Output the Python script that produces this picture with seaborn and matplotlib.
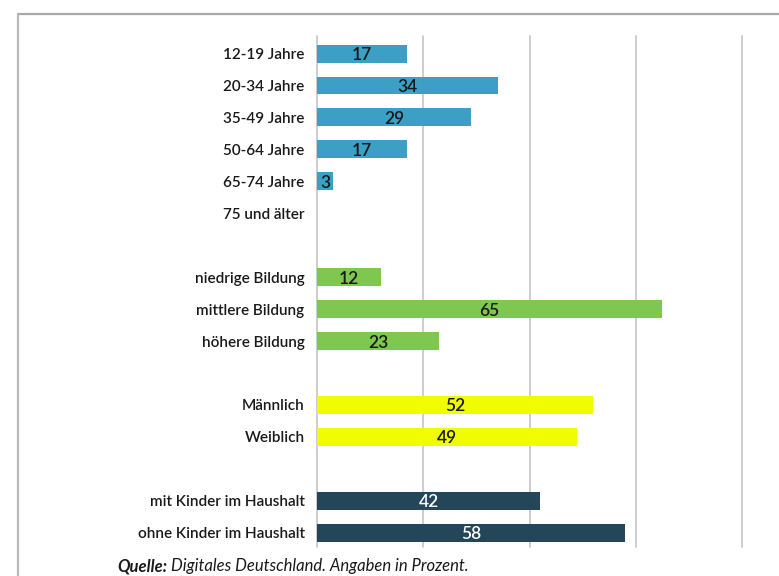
import matplotlib
matplotlib.use("Agg")
import matplotlib.pyplot as plt
from matplotlib.lines import Line2D
import seaborn as sns
import pandas as pd

# Survey shares in percent, grouped by segment
age_labels = ["12-19 Jahre", "20-34 Jahre", "35-49 Jahre", "50-64 Jahre", "65-74 Jahre", "75 und älter"]
age_values = [17, 34, 29, 17, 3, 0]

edu_labels = ["niedrige Bildung", "mittlere Bildung", "höhere Bildung"]
edu_values = [12, 65, 23]

sex_labels = ["Männlich", "Weiblich"]
sex_values = [52, 49]

kids_labels = ["mit Kinder im Haushalt", "ohne Kinder im Haushalt"]
kids_values = [42, 58]

group_names = ["Alter", "Bildung", "Geschlecht", "Kinder"]
group_colors = ["#3c9fc4", "#7ec850", "#f0fc00", "#234658"]
label_colors = ["#1a1a1a", "#1a1a1a", "#1a1a1a", "#ffffff"]

rows = []
for g, labels, values in zip(group_names,
                             [age_labels, edu_labels, sex_labels, kids_labels],
                             [age_values, edu_values, sex_values, kids_values]):
    for l, v in zip(labels, values):
        rows.append({"Kategorie": l, "Wert": v, "Gruppe": g})
df = pd.DataFrame(rows)

# Category order with blank spacer rows between the segments
order = (age_labels + [" "] + edu_labels + ["  "] + sex_labels + ["   "] + kids_labels)

sns.set_theme(style="white")
plt.rcParams["font.family"] = ["Lato", "DejaVu Sans"]

fig = plt.figure(figsize=(7.79, 5.76), dpi=100)
ax = fig.add_axes([317 / 779, 1 - 547 / 576, (742 - 317) / 779, (547 - 36) / 576])

sns.barplot(data=df, x="Wert", y="Kategorie", hue="Gruppe", order=order,
            hue_order=group_names, palette=group_colors, dodge=False,
            width=0.56, orient="h", legend=False, ax=ax, zorder=3,
            edgecolor="none", errorbar=None, saturation=1)

ax.set_xlim(0, 80)
ax.set_ylim(len(order) - 0.55, -0.55)
for xv in [0, 20, 40, 60, 80]:
    ax.axvline(xv, color="#c9c9c9", lw=1.3, zorder=1, clip_on=False)

for s in ax.spines.values():
    s.set_visible(False)
ax.set_xticks([])
ax.set_xlabel("")
ax.set_ylabel("")
ax.tick_params(axis="y", length=0, pad=9, labelsize=11, labelcolor="#1a1a1a")
for t in ax.get_yticklabels():
    t.set_fontweight("semibold")

# Value labels centred in each bar
color_by_group = dict(zip(group_names, label_colors))
for _, r in df.iterrows():
    if r["Wert"] <= 0:
        continue
    y = order.index(r["Kategorie"])
    ax.text(r["Wert"] / 2, y, f"{r['Wert']:g}", ha="center", va="center_baseline",
            fontsize=12.5, fontweight="semibold", color=color_by_group[r["Gruppe"]], zorder=4)

# Thin frame along top and left edge
fig.add_artist(Line2D([18 / 779, 1], [1 - 14 / 576, 1 - 14 / 576],
                      transform=fig.transFigure, color="#a8a8a8", lw=1.6))
fig.add_artist(Line2D([18 / 779, 18 / 779], [0, 1 - 14 / 576],
                      transform=fig.transFigure, color="#b8b8b8", lw=1.6))

src_y = 1 - 566 / 576
t1 = fig.text(117 / 779, src_y, "Quelle:", fontsize=12, fontweight="bold",
              fontstyle="italic", va="center", ha="left", color="#1a1a1a")
fig.canvas.draw()
bb = t1.get_window_extent(renderer=fig.canvas.get_renderer())
fig.text((bb.x1 + 4) / 779, src_y, "Digitales Deutschland. Angaben in Prozent.",
         fontsize=12, fontstyle="italic", va="center", ha="left", color="#1a1a1a")

fig.savefig("out.png", dpi=100)
